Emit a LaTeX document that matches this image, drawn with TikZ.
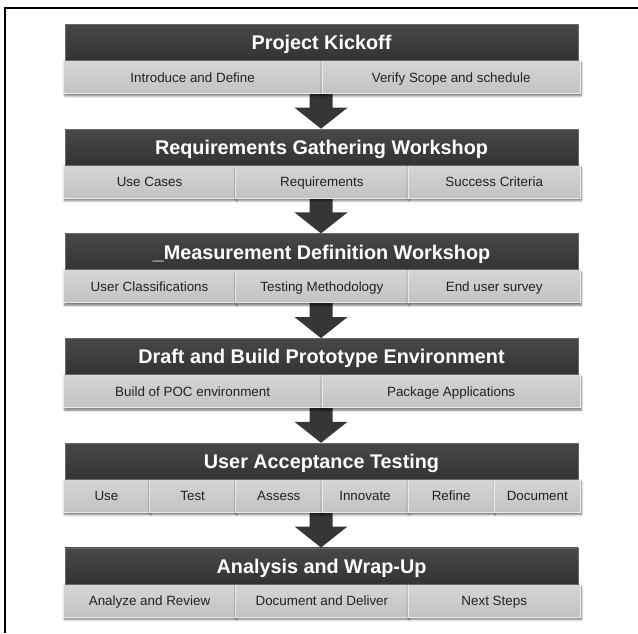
\documentclass[tikz,border=0pt]{standalone}
\usepackage{fontspec}
\setmainfont{Liberation Sans}
\usetikzlibrary{calc,shadows.blur}
\definecolor{hdrtop}{HTML}{484848}
\definecolor{hdrbot}{HTML}{333333}
\definecolor{hdrline}{HTML}{6A6A6A}
\definecolor{celltop}{HTML}{D6D6D6}
\definecolor{cellbot}{HTML}{C2C2C2}
\definecolor{celledge}{HTML}{EAEAEA}
\definecolor{celltext}{HTML}{222222}
\definecolor{arrowc}{HTML}{363636}
\tikzset{
  hdrbox/.style={draw=hdrline, line width=0.8pt, top color=hdrtop, bottom color=hdrbot,
    minimum width=513pt, minimum height=36pt, inner sep=0pt, text=white,
    text height=18.5pt, text depth=4pt,
    font=\fontsize{19.8}{20}\selectfont\bfseries, anchor=north},
  cellbox/.style={draw=celledge, line width=0.8pt, top color=celltop, bottom color=cellbot,
    minimum height=33pt, inner sep=0pt, text=celltext,
    text height=13.5pt, text depth=3pt,
    font=\fontsize{13.4}{14}\selectfont, anchor=north west,
    blur shadow={shadow xshift=1pt, shadow yshift=-2.5pt, shadow blur steps=5, shadow opacity=55}},
  flowarrow/.style={fill=arrowc, draw=none},
  frameline/.style={draw=black, line width=2pt},
}
\newcommand\blockrow[4]{%
  \pgfmathsetmacro\Ty{24+104.7*#1}
  \pgfmathsetmacro\cw{517/#3}
  \foreach \c [count=\k] in {#4} {
    \node[cellbox, minimum width=\cw pt] (c#1-\k) at ({63+(\k-1)*\cw},{-\Ty-36}) {\c};
  }
  \node[hdrbox] (h#1) at (321.5,-\Ty) {#2};
}
\begin{document}
\begin{tikzpicture}[x=1pt,y=1pt]
\useasboundingbox (0,0) rectangle (638,-633);
\coordinate (fa) at (4.5,-633);
\coordinate (fb) at (4.5,-7.5);
\coordinate (fc) at (638,-7.5);
\draw[frameline] (fa) -- (fb) -- (fc);
% arrows (behind blocks)
\foreach \i in {0,...,4} {
  \pgfmathsetmacro\Ta{24+104.7*\i+60}
  \pgfmathsetmacro\Tb{24+104.7*(\i+1)}
  \coordinate (a\i) at (321,-\Ta);
  \coordinate (t\i) at (321,-\Tb);
  \fill[flowarrow] ($(a\i)+(-11.5,0)$) -- ($(a\i)+(11.5,0)$) -- ($(t\i)+(11.5,21)$)
     -- ($(t\i)+(26.5,21)$) -- (t\i) -- ($(t\i)+(-26.5,21)$) -- ($(t\i)+(-11.5,21)$) -- cycle;
}
\blockrow{0}{Project Kickoff}{2}{Introduce and Define,Verify Scope and schedule}
\blockrow{1}{Requirements Gathering Workshop}{3}{Use Cases,Requirements,Success Criteria}
\blockrow{2}{\_Measurement Definition Workshop}{3}{User Classifications,Testing Methodology,End user survey}
\blockrow{3}{Draft and Build Prototype Environment}{2}{Build of POC environment,Package Applications}
\blockrow{4}{User Acceptance Testing}{6}{Use,Test,Assess,Innovate,Refine,Document}
\blockrow{5}{Analysis and Wrap-Up}{3}{Analyze and Review,Document and Deliver,Next Steps}
\end{tikzpicture}
\end{document}
